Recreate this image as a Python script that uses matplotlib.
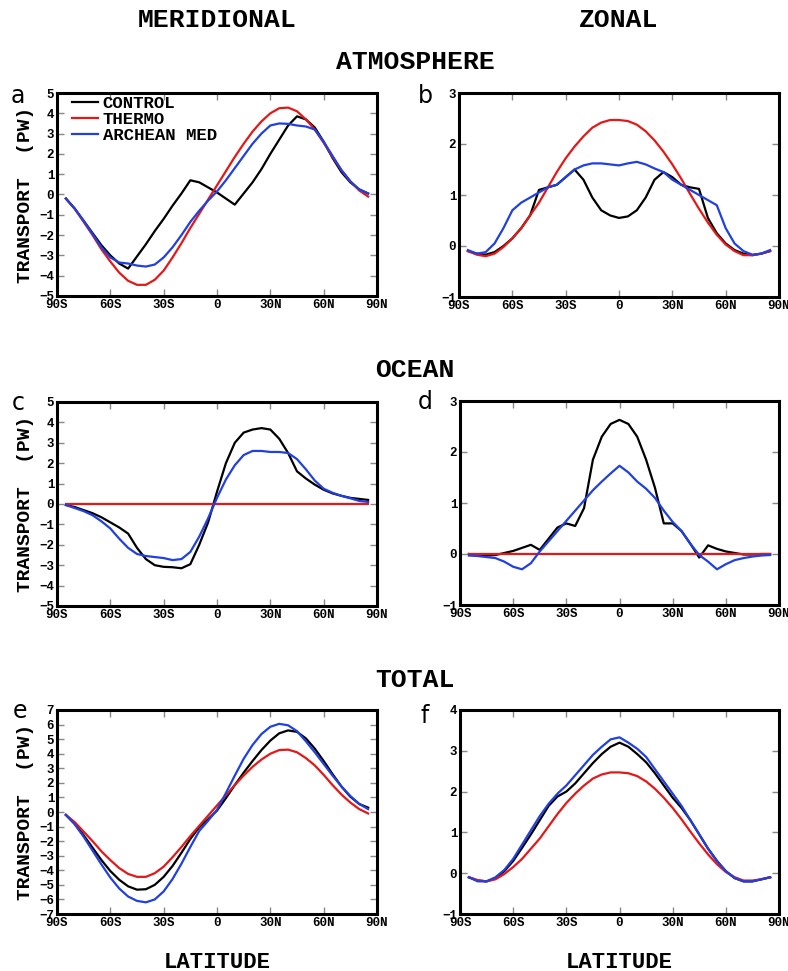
import matplotlib
matplotlib.use('Agg')
import matplotlib.pyplot as plt

mono = 'Liberation Mono'

lat = [-85, -80, -75, -70, -65, -60, -55, -50, -45, -40, -35, -30, -25, -20, -15, -10, -5,
       0, 5, 10, 15, 20, 25, 30, 35, 40, 45, 50, 55, 60, 65, 70, 75, 80, 85]

xticks = [-90, -60, -30, 0, 30, 60, 90]
xticklabels = ['90S', '60S', '30S', '0', '30N', '60N', '90N']

# atmosphere, meridional (PW)
atm_control_mer = [-0.2, -0.7, -1.3, -1.9, -2.5, -3.0, -3.4, -3.65, -3.05, -2.45, -1.8, -1.2, -0.55,
                   0.05, 0.7, 0.6, 0.35, 0.1, -0.2, -0.5, 0.05, 0.6, 1.25, 2.0, 2.7, 3.4, 3.85,
                   3.7, 3.3, 2.6, 1.8, 1.1, 0.6, 0.25, 0.05]
atm_thermo_mer = [-0.2, -0.7, -1.35, -2.0, -2.7, -3.3, -3.85, -4.25, -4.45, -4.45, -4.2, -3.75,
                  -3.1, -2.4, -1.65, -0.95, -0.25, 0.45, 1.15, 1.85, 2.5, 3.1, 3.6, 4.0, 4.25,
                  4.28, 4.1, 3.7, 3.2, 2.55, 1.85, 1.2, 0.65, 0.2, -0.1]
atm_archean_mer = [-0.2, -0.7, -1.3, -1.95, -2.6, -3.1, -3.35, -3.4, -3.5, -3.55, -3.45, -3.1,
                   -2.6, -2.0, -1.35, -0.8, -0.3, 0.15, 0.7, 1.3, 1.9, 2.5, 3.0, 3.4, 3.5, 3.48,
                   3.4, 3.35, 3.2, 2.6, 1.9, 1.2, 0.65, 0.25, 0.05]

# atmosphere, zonal
atm_control_zon = [-0.1, -0.15, -0.17, -0.12, 0.0, 0.15, 0.35, 0.6, 1.1, 1.15, 1.2, 1.35, 1.5,
                   1.3, 0.95, 0.7, 0.6, 0.55, 0.58, 0.7, 0.95, 1.3, 1.45, 1.35, 1.2, 1.15, 1.12,
                   0.55, 0.25, 0.05, -0.08, -0.15, -0.18, -0.15, -0.1]
atm_thermo_zon = [-0.1, -0.17, -0.2, -0.15, -0.02, 0.15, 0.35, 0.6, 0.85, 1.15, 1.45, 1.72, 1.95,
                  2.15, 2.32, 2.42, 2.47, 2.47, 2.45, 2.38, 2.25, 2.07, 1.85, 1.6, 1.32, 1.02,
                  0.73, 0.46, 0.22, 0.03, -0.1, -0.18, -0.18, -0.15, -0.1]
atm_archean_zon = [-0.08, -0.15, -0.12, 0.05, 0.35, 0.7, 0.85, 0.95, 1.05, 1.15, 1.2, 1.35, 1.5,
                   1.58, 1.62, 1.62, 1.6, 1.58, 1.62, 1.65, 1.6, 1.52, 1.45, 1.3, 1.2, 1.1, 1.0,
                   0.9, 0.8, 0.35, 0.05, -0.1, -0.17, -0.15, -0.08]

# ocean, meridional
ocn_control_mer = [-0.05, -0.15, -0.3, -0.45, -0.65, -0.9, -1.15, -1.45, -2.15, -2.7, -3.0, -3.08,
                   -3.1, -3.15, -2.95, -2.0, -0.9, 0.6, 2.0, 3.0, 3.5, 3.65, 3.72, 3.65, 3.2, 2.5,
                   1.6, 1.25, 0.95, 0.7, 0.52, 0.4, 0.3, 0.25, 0.2]
ocn_thermo_mer = [0.0] * 35
ocn_archean_mer = [-0.05, -0.2, -0.35, -0.55, -0.85, -1.2, -1.7, -2.15, -2.45, -2.55, -2.6, -2.65,
                   -2.75, -2.7, -2.35, -1.6, -0.7, 0.3, 1.2, 1.9, 2.4, 2.6, 2.6, 2.55, 2.55, 2.5,
                   2.2, 1.7, 1.15, 0.75, 0.55, 0.4, 0.28, 0.15, 0.1]

# ocean, zonal
ocn_control_zon = [0.0, -0.02, -0.03, -0.02, 0.02, 0.06, 0.12, 0.18, 0.08, 0.3, 0.52, 0.6, 0.55,
                   0.9, 1.85, 2.3, 2.55, 2.63, 2.55, 2.3, 1.85, 1.3, 0.6, 0.6, 0.45, 0.2, -0.07,
                   0.17, 0.1, 0.05, 0.02, -0.01, -0.01, 0.0, 0.0]
ocn_thermo_zon = [0.0] * 35
ocn_archean_zon = [-0.03, -0.04, -0.06, -0.08, -0.15, -0.25, -0.3, -0.18, 0.05, 0.25, 0.45, 0.65,
                   0.85, 1.05, 1.25, 1.42, 1.58, 1.73, 1.6, 1.42, 1.28, 1.1, 0.85, 0.63, 0.45, 0.2,
                   -0.02, -0.15, -0.3, -0.2, -0.12, -0.08, -0.05, -0.03, -0.02]

# total, meridional
tot_control_mer = [-0.2, -0.8, -1.6, -2.45, -3.3, -4.05, -4.65, -5.1, -5.33, -5.3, -5.0, -4.45,
                   -3.7, -2.8, -1.85, -1.05, -0.5, 0.1, 0.95, 1.85, 2.7, 3.5, 4.25, 4.9, 5.4, 5.6,
                   5.5, 5.05, 4.35, 3.5, 2.6, 1.75, 1.05, 0.55, 0.3]
tot_thermo_mer = [-0.2, -0.7, -1.35, -2.0, -2.7, -3.3, -3.85, -4.25, -4.45, -4.45, -4.2, -3.75,
                  -3.1, -2.4, -1.65, -0.95, -0.25, 0.45, 1.15, 1.85, 2.5, 3.1, 3.6, 4.0, 4.25,
                  4.28, 4.1, 3.7, 3.2, 2.55, 1.85, 1.2, 0.65, 0.2, -0.1]
tot_archean_mer = [-0.2, -0.85, -1.7, -2.65, -3.6, -4.5, -5.25, -5.8, -6.1, -6.2, -6.0, -5.45,
                   -4.6, -3.55, -2.4, -1.3, -0.6, 0.15, 1.3, 2.5, 3.65, 4.6, 5.35, 5.85, 6.05,
                   5.95, 5.55, 4.85, 4.1, 3.3, 2.5, 1.75, 1.1, 0.55, 0.2]

# total, zonal
tot_control_zon = [-0.1, -0.18, -0.2, -0.12, 0.05, 0.3, 0.62, 0.95, 1.3, 1.65, 1.88, 2.0, 2.2,
                   2.45, 2.7, 2.92, 3.1, 3.2, 3.1, 2.92, 2.72, 2.45, 2.15, 1.85, 1.6, 1.3, 0.95,
                   0.6, 0.3, 0.05, -0.12, -0.2, -0.2, -0.15, -0.1]
tot_thermo_zon = [-0.1, -0.17, -0.2, -0.15, -0.02, 0.15, 0.35, 0.6, 0.85, 1.15, 1.45, 1.72, 1.95,
                  2.15, 2.32, 2.42, 2.47, 2.47, 2.45, 2.38, 2.25, 2.07, 1.85, 1.6, 1.32, 1.02,
                  0.73, 0.46, 0.22, 0.03, -0.1, -0.18, -0.18, -0.15, -0.1]
tot_archean_zon = [-0.1, -0.2, -0.2, -0.1, 0.08, 0.35, 0.7, 1.05, 1.4, 1.7, 1.95, 2.15, 2.4,
                   2.65, 2.9, 3.1, 3.28, 3.33, 3.2, 3.05, 2.85, 2.55, 2.25, 1.95, 1.65, 1.3, 0.95,
                   0.6, 0.3, 0.05, -0.12, -0.2, -0.2, -0.15, -0.1]

W, H = 788, 971


def box(left, top, right, bottom):
    return [left / W, 1 - bottom / H, (right - left) / W, (bottom - top) / H]


def draw(ax, control, thermo, archean, ylim, letter, lx, ly, ylabel=True, legend=False):
    ax.plot(lat, control, color='black', lw=1.6, label='CONTROL')
    ax.plot(lat, thermo, color='#e41818', lw=1.6, label='THERMO')
    ax.plot(lat, archean, color='#2040e0', lw=1.6, label='ARCHEAN MED')
    ax.set_xlim(-90, 90)
    ax.set_ylim(*ylim)
    ax.set_xticks(xticks)
    ax.set_xticklabels(xticklabels, fontfamily=mono, fontweight='bold', fontsize=9)
    ax.set_yticks(range(ylim[0], ylim[1] + 1))
    for t in ax.get_yticklabels():
        t.set_fontfamily(mono)
        t.set_fontweight('bold')
        t.set_fontsize(9)
    ax.tick_params(direction='in', length=5, width=1, color='#888888',
                   top=True, right=True, pad=2)
    for s in ax.spines.values():
        s.set_linewidth(2.2)
    if ylabel:
        ax.set_ylabel('TRANSPORT  (PW)', fontfamily=mono, fontweight='bold', fontsize=14,
                      labelpad=4)
    if legend:
        ax.legend(loc='upper left', bbox_to_anchor=(0.04, 1.0), frameon=False,
                  handlelength=1.5, handletextpad=0.25, labelspacing=0.05,
                  borderaxespad=0, borderpad=0.15,
                  prop={'family': mono, 'weight': 'bold', 'size': 12.5})
    fig.text(lx / W, 1 - ly / H, letter, fontsize=17, ha='center', va='center',
             fontfamily='DejaVu Sans')


fig = plt.figure(figsize=(7.88, 9.71), dpi=100)

ax_a = fig.add_axes(box(57, 93, 377, 296))
draw(ax_a, atm_control_mer, atm_thermo_mer, atm_archean_mer, (-5, 5), 'a', 18, 96, legend=True)
ax_b = fig.add_axes(box(459, 93, 779, 297))
draw(ax_b, atm_control_zon, atm_thermo_zon, atm_archean_zon, (-1, 3), 'b', 425, 96, ylabel=False)
ax_c = fig.add_axes(box(57, 402, 377, 606))
draw(ax_c, ocn_control_mer, ocn_thermo_mer, ocn_archean_mer, (-5, 5), 'c', 18, 403)
ax_d = fig.add_axes(box(460, 401, 779, 605))
draw(ax_d, ocn_control_zon, ocn_thermo_zon, ocn_archean_zon, (-1, 3), 'd', 425, 402, ylabel=False)
ax_e = fig.add_axes(box(57, 710, 377, 914))
draw(ax_e, tot_control_mer, tot_thermo_mer, tot_archean_mer, (-7, 7), 'e', 20, 711)
ax_f = fig.add_axes(box(460, 710, 779, 914))
draw(ax_f, tot_control_zon, tot_thermo_zon, tot_archean_zon, (-1, 4), 'f', 425, 716, ylabel=False)

title_kw = dict(fontfamily=mono, fontweight='bold', ha='center', va='center')
fig.text(217 / W, 1 - 20 / H, 'MERIDIONAL', fontsize=19, **title_kw)
fig.text(619 / W, 1 - 20 / H, 'ZONAL', fontsize=19, **title_kw)
fig.text(415 / W, 1 - 62 / H, 'ATMOSPHERE', fontsize=19, **title_kw)
fig.text(415 / W, 1 - 370 / H, 'OCEAN', fontsize=19, **title_kw)
fig.text(415 / W, 1 - 680 / H, 'TOTAL', fontsize=19, **title_kw)
fig.text(217 / W, 1 - 962 / H, 'LATITUDE', fontsize=16, **title_kw)
fig.text(619 / W, 1 - 962 / H, 'LATITUDE', fontsize=16, **title_kw)

fig.savefig('out.png', dpi=100)
